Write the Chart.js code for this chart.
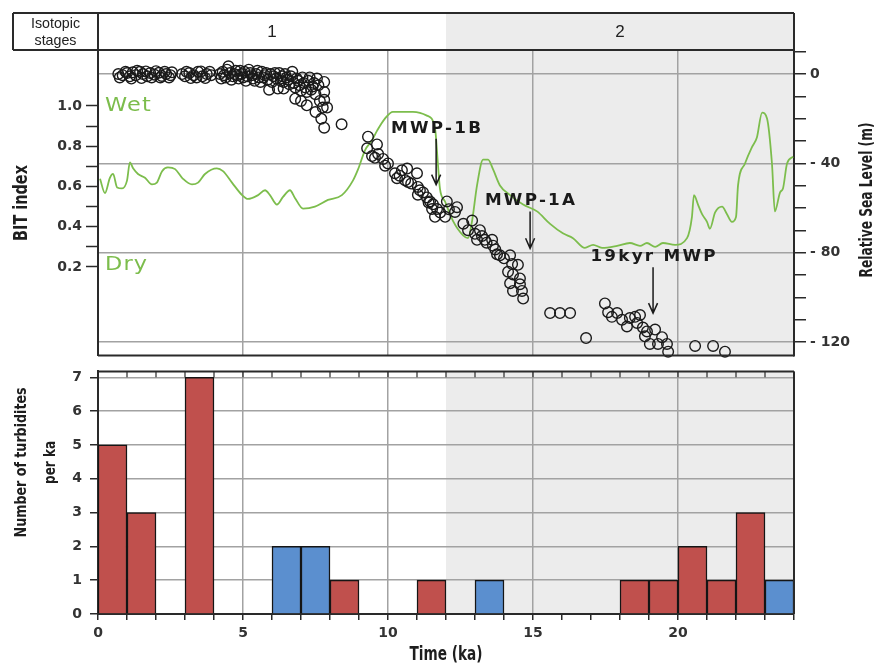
<!DOCTYPE html>
<html>
<head>
<meta charset="utf-8">
<script src="https://cdn.jsdelivr.net/npm/chart.js@4.4.1/dist/chart.umd.min.js"></script>
<style>
  html, body { margin: 0; padding: 0; background: #fff; }
  #wrap { position: relative; width: 885px; height: 671px; overflow: hidden; }
  canvas { position: absolute; left: 0; }
  #chartA { top: 0; }
  #chartB { top: 355px; }
</style>
</head>
<body>
<div id="wrap">
  <canvas id="chartA" width="885" height="368"></canvas>
  <canvas id="chartB" width="885" height="316"></canvas>
</div>
<script>
// isotopic stages (ka)
const stageLabels = ['1', '2'];
const stageBounds = [0, 12, 24];

// relative sea level points: time (ka) / level (m)
const seaTime = [
  0.7, 0.85, 1.0, 1.1, 1.2, 1.3, 1.45, 1.55, 1.7, 1.8, 1.95, 2.1, 2.2, 2.35, 2.5,
  0.75, 0.95, 1.15, 1.35, 1.5, 1.65, 1.85, 2.0, 2.15, 2.3, 2.45, 2.55,
  2.9, 3.0, 3.15, 3.3, 3.45, 3.6, 3.75, 3.9,
  3.05, 3.2, 3.4, 3.55, 3.7, 3.85,
  4.2, 4.3, 4.4, 4.5, 4.55, 4.65, 4.75, 4.85, 4.95,
  4.25, 4.35, 4.45, 4.6, 4.7, 4.8, 4.9,
  5.05, 5.15, 5.25, 5.35, 5.45, 5.55, 5.65, 5.75, 5.85, 5.95, 6.05, 6.15, 6.25, 5.9, 6.2, 6.4,
  5.0, 5.1, 5.2, 5.3, 5.4, 5.5, 5.6, 5.7, 5.8, 6.0, 6.1, 6.3,
  6.35, 6.45, 6.55, 6.65, 6.75, 6.85, 6.95, 7.05, 7.15, 7.25, 7.35, 7.45, 7.55,
  6.4, 6.5, 6.6, 6.7, 6.8, 6.9, 7.0, 7.1, 7.2, 7.3, 7.4, 7.5, 7.6, 7.65,
  6.8, 7.0, 7.2, 7.5, 7.8, 7.8, 7.8, 7.75, 7.9, 7.7, 7.8, 8.4,
  9.31, 9.28, 9.62, 9.45, 9.66, 9.55, 9.83, 9.90, 10.24, 10.31, 10.48, 10.66, 10.59, 10.69,
  11.0, 11.03, 11.03, 11.21, 11.34, 11.45, 11.55, 11.52, 11.69, 11.62, 11.97,
  12.03, 12.38, 12.31, 12.90, 12.76, 13.17, 13.07, 13.24, 13.59, 13.62, 13.76, 13.86, 14.21,
  10.0, 10.4, 10.8, 11.1, 11.4, 11.8, 12.1, 12.6, 13.0, 13.4, 13.7, 14.0,
  13.34, 14.28, 14.48, 14.14, 14.31, 14.55, 14.21, 14.55, 14.31, 14.62, 14.66,
  15.59, 15.93, 16.28, 16.83,
  17.48, 17.59, 17.72, 17.90, 18.07, 18.24, 18.34, 18.52, 18.69, 18.59,
  18.79, 18.93, 19.21, 18.86, 19.03, 19.31, 19.62, 19.45, 19.66,
  20.59, 21.21, 21.62
];
const seaLevel = [
  0, -0.5, 0.5, -1, 0.8, -0.5, 1, 0, -1, 0.5, -0.3, 0.6, -0.8, 0, -0.5,
  -1.5, 1, -2, 1.5, -1.8, 1.2, -1.5, 1.3, -1.5, 1, -1.5, 0.8,
  0, -1, 0.5, -0.5, 1, -1, 0, -0.5,
  1, -1.8, -1.5, 1.2, -1.8, 1,
  0, 1, -1.5, 3.5, 0.5, -1, 1.5, -2, 0,
  -2, -0.5, 2, -2.5, 0, -0.5, 1.5,
  1, -1, 0.5, -2, 0, -1.5, 1, -0.5, -2.5, 0, -1, -2, 0.5, -7, -6.5, -6.5,
  -1.5, -3, 2, -0.5, -3, 1.5, -3.5, -1.5, 0.5, -3.5, 0.5, -3,
  -1, 0, -2.5, -1, -4, -2, -5, -1.5, -6, -3, -7, -4, -2,
  -3.5, -1.5, -4.5, 1, -6, -3, -7.5, -4, -8, -1.5, -5.5, -9, -5, -12,
  -11, -12, -14, -17, -3.5, -8, -11.5, -15, -15, -20, -24, -22.5,
  -28, -33.2, -31.5, -36.7, -35.8, -37.5, -38, -41, -44.4, -46.6, -43.1, -42.3, -47.5, -48.3,
  -44.4, -50.5, -54, -53, -55.2, -57, -58.3, -60.4, -60.4, -63.9, -63.9,
  -57, -59.6, -61.7, -65.6, -69.9, -69.9, -74.2, -72.5, -74.2, -76.8, -80.7, -81.1, -81.1,
  -40, -45.5, -49, -52, -57.5, -62, -60.5, -67, -71.5, -75.5, -78.5, -82.5,
  -74.2, -85, -85.4, -88.5, -89.7, -91.5, -93.6, -94.1, -97.1, -97.1, -100.5,
  -107, -107, -107, -118.2,
  -102.7, -106.6, -108.7, -107, -110, -113, -109.2, -108.7, -107.9, -111.4,
  -113.5, -115.2, -114.4, -117.4, -120.8, -120.8, -120.8, -117.8, -124.3,
  -121.7, -121.7, -124.3
];

// BIT index curve
const bitTime = [
  0.07, 0.24, 0.41, 0.52, 0.66, 0.83, 1.00, 1.10, 1.21, 1.38, 1.62, 1.86, 2.03, 2.21, 2.41, 2.66,
  2.93, 3.24, 3.45, 3.69, 4.10, 4.31, 4.62, 4.97, 5.17, 5.52, 5.76, 5.93, 6.17, 6.38, 6.62, 6.79,
  7.07, 7.48, 7.93, 8.41, 8.79, 8.97, 9.21, 9.45, 9.62, 9.90, 10.17, 10.86, 11.34, 11.62, 11.72,
  11.79, 11.97, 12.24, 12.59, 12.76, 12.90, 13.07, 13.28, 13.45, 13.62, 13.86, 14.21, 14.66, 15.14,
  15.59, 16.03, 16.38, 16.79, 17.07, 17.38, 17.90, 18.34, 18.69, 18.93, 19.21, 19.48, 19.90, 20.31,
  20.48, 20.55, 20.69, 20.83, 21.00, 21.10, 21.28, 21.52, 21.69, 21.86, 22.00, 22.07, 22.31, 22.55,
  22.72, 22.90, 23.07, 23.24, 23.34, 23.52, 23.62, 23.76, 23.97
];
const bitValue = [
  0.638, 0.567, 0.643, 0.662, 0.595, 0.590, 0.629, 0.719, 0.690, 0.662, 0.643, 0.610, 0.619, 0.676, 0.695, 0.686,
  0.638, 0.610, 0.619, 0.662, 0.690, 0.676, 0.619, 0.557, 0.538, 0.557, 0.581, 0.557, 0.510, 0.548, 0.581, 0.543,
  0.490, 0.500, 0.533, 0.557, 0.629, 0.686, 0.781, 0.830, 0.876, 0.938, 0.971, 0.971, 0.952, 0.890, 0.714,
  0.590, 0.524, 0.429, 0.357, 0.343, 0.429, 0.605, 0.733, 0.733, 0.686, 0.605, 0.557, 0.510, 0.476,
  0.414, 0.367, 0.343, 0.295, 0.310, 0.295, 0.305, 0.319, 0.305, 0.319, 0.300, 0.319, 0.310, 0.343,
  0.448, 0.557, 0.510, 0.462, 0.424, 0.390, 0.471, 0.500, 0.462, 0.424, 0.448, 0.605, 0.714, 0.795,
  0.843, 0.967, 0.938, 0.714, 0.476, 0.571, 0.590, 0.714, 0.748
];

// turbidites per ka, 1-ka bins starting at binStart
const binStart = [0,1,2,3,4,5,6,7,8,9,10,11,12,13,14,15,16,17,18,19,20,21,22,23];
const turbidites = [5,3,0,7,0,0,2,2,1,0,0,1,0,1,0,0,0,0,1,1,2,1,3,1];
const turbType = [1,1,1,1,1,1,2,2,1,1,1,1,1,2,1,1,1,1,1,1,1,1,1,2];

// axis ticks
const bitTicks = [0.2, 0.3, 0.4, 0.5, 0.6, 0.7, 0.8, 0.9, 1.0];
const bitLabelled = [0.2, 0.4, 0.6, 0.8, 1.0];
const seaTicks = [-120, -110, -100, -90, -80, -70, -60, -50, -40, -30, -20, -10, 0, 10];
const seaLabelled = [0, -40, -80, -120];
const timeTicks = [0,1,2,3,4,5,6,7,8,9,10,11,12,13,14,15,16,17,18,19,20,21,22,23,24];
const timeLabelled = [0, 5, 10, 15, 20];
const countTicks = [0, 1, 2, 3, 4, 5, 6, 7];

// annotations: label, time, label level, arrow tip level (m)
const arrows = [
  { text: 'MWP-1B', t: 11.66, label: -24.5, tip: -49.5 },
  { text: 'MWP-1A', t: 14.9, label: -57, tip: -78 },
  { text: '19kyr MWP', t: 19.14, label: -82, tip: -107 }
];

// look
const SHADE = '#ececec';
const GRID = '#a2a2a2';
const INK = '#2a2a2a';
const GREEN = '#7cbd4c';
const RED = '#c0504d';
const BLUE = '#5b8fcf';
const SANS = '"Liberation Sans", Arial, sans-serif';
const WIDE = '"DejaVu Sans", "Liberation Sans", sans-serif';
const HEAD_LEFT = 13, HEAD_TOP = 13;
const CLEAR = 'rgba(0,0,0,0)';

Chart.defaults.font.family = WIDE;
Chart.defaults.color = '#333';

const near = (list, v) => list.some(l => Math.abs(l - v) < 1e-6);
const tickFont = { size: 14, weight: 'bold' };

// text squeezed or stretched along its own direction
function putText(ctx, text, x, y, font, sx, angle, align) {
  ctx.save();
  ctx.translate(x, y);
  ctx.rotate(angle || 0);
  ctx.scale(sx, 1);
  ctx.font = font;
  ctx.textAlign = align || 'center';
  ctx.textBaseline = 'middle';
  ctx.fillText(text, 0, 0);
  ctx.restore();
}

// heavy condensed title squeezed to a given length
function putTitle(ctx, text, x, y, size, len, angle) {
  ctx.save();
  ctx.font = 'bold ' + size + 'px ' + WIDE;
  const w = ctx.measureText(text).width;
  ctx.restore();
  putText(ctx, text, x, y, 'bold ' + size + 'px ' + WIDE, len / w, angle);
}

const panelA = {
  id: 'panelA',
  beforeDraw(chart) {
    const { ctx, chartArea: a, scales: { x } } = chart;
    const x0 = x.getPixelForValue(stageBounds[1]);
    ctx.save();
    ctx.fillStyle = SHADE;
    ctx.fillRect(x0, HEAD_TOP, a.right - x0, a.bottom - HEAD_TOP);
    ctx.restore();
  },
  afterDraw(chart) {
    const { ctx, chartArea: a, scales: { x, bit, sea } } = chart;
    ctx.save();
    // header frame + panel edges
    ctx.strokeStyle = INK;
    ctx.lineWidth = 2;
    ctx.beginPath();
    ctx.moveTo(HEAD_LEFT, HEAD_TOP); ctx.lineTo(a.right, HEAD_TOP);
    ctx.moveTo(HEAD_LEFT, HEAD_TOP); ctx.lineTo(HEAD_LEFT, a.top);
    ctx.moveTo(HEAD_LEFT, a.top); ctx.lineTo(a.right, a.top);
    ctx.moveTo(a.left, HEAD_TOP); ctx.lineTo(a.left, a.top);
    ctx.moveTo(a.right, HEAD_TOP); ctx.lineTo(a.right, a.top);
    ctx.moveTo(a.left, a.bottom); ctx.lineTo(a.right, a.bottom);
    ctx.stroke();

    // header text
    ctx.fillStyle = '#222';
    const hx = (HEAD_LEFT + a.left) / 2;
    putText(ctx, 'Isotopic', hx, 24, '15px ' + SANS, 0.95);
    putText(ctx, 'stages', hx, 41, '15px ' + SANS, 0.95);
    stageLabels.forEach((s, i) => {
      const cx = (x.getPixelForValue(stageBounds[i]) + x.getPixelForValue(stageBounds[i + 1])) / 2;
      putText(ctx, s, cx, (HEAD_TOP + a.top) / 2 + 1, '17px ' + SANS, 1);
    });

    // Wet / Dry
    ctx.fillStyle = GREEN;
    ctx.letterSpacing = '1px';
    putText(ctx, 'Wet', a.left + 7, bit.getPixelForValue(1.0), '19px ' + WIDE, 1.18, 0, 'left');
    putText(ctx, 'Dry', a.left + 7, bit.getPixelForValue(0.21), '19px ' + WIDE, 1.18, 0, 'left');

    // meltwater pulse arrows
    ctx.fillStyle = '#1a1a1a';
    ctx.strokeStyle = '#1a1a1a';
    ctx.lineWidth = 1.5;
    ctx.letterSpacing = '2px';
    arrows.forEach(m => {
      const px = x.getPixelForValue(m.t);
      const ly = sea.getPixelForValue(m.label);
      const ty = sea.getPixelForValue(m.tip);
      putText(ctx, m.text, px + 1, ly, 'bold 15px ' + WIDE, 1.12);
      ctx.beginPath();
      ctx.moveTo(px, ly + 10); ctx.lineTo(px, ty);
      ctx.moveTo(px - 4.5, ty - 10); ctx.lineTo(px, ty); ctx.lineTo(px + 4.5, ty - 10);
      ctx.stroke();
    });
    ctx.letterSpacing = '0px';

    // axis titles (both read bottom to top)
    ctx.fillStyle = '#1e1e1e';
    putTitle(ctx, 'BIT index', 22, 203, 19, 76, -Math.PI / 2);
    putTitle(ctx, 'Relative Sea Level (m)', 868, 200, 17, 155, -Math.PI / 2);
    ctx.restore();
  }
};

const panelB = {
  id: 'panelB',
  beforeDraw(chart) {
    const { ctx, chartArea: a, scales: { x } } = chart;
    const x0 = x.getPixelForValue(stageBounds[1]);
    ctx.save();
    ctx.fillStyle = SHADE;
    ctx.fillRect(x0, a.top, a.right - x0, a.bottom - a.top);
    ctx.restore();
  },
  afterDraw(chart) {
    const { ctx, chartArea: a, scales: { x, y } } = chart;
    ctx.save();
    ctx.strokeStyle = INK;
    ctx.lineWidth = 2;
    ctx.beginPath();
    ctx.moveTo(a.left, a.top); ctx.lineTo(a.right, a.top);
    ctx.moveTo(a.right, a.top); ctx.lineTo(a.right, a.bottom);
    ctx.stroke();
    // little ticks along the top edge
    const yTop = y.getPixelForValue(countTicks[countTicks.length - 1]);
    ctx.lineWidth = 1.2;
    ctx.beginPath();
    timeTicks.forEach(t => {
      const px = x.getPixelForValue(t);
      ctx.moveTo(px, a.top); ctx.lineTo(px, yTop);
    });
    ctx.stroke();
    // titles
    ctx.fillStyle = '#1e1e1e';
    const yc = a.top + 91;
    putTitle(ctx, 'Number of turbidites', 22, yc, 16, 150, -Math.PI / 2);
    putTitle(ctx, 'per ka', 51, yc, 16, 43, -Math.PI / 2);
    putTitle(ctx, 'Time (ka)', (a.left + a.right) / 2, a.bottom + 41, 19, 73, 0);
    ctx.restore();
  }
};

new Chart(document.getElementById('chartA'), {
  data: {
    datasets: [
      {
        type: 'scatter',
        label: 'Relative sea level',
        data: seaTime.map((t, i) => ({ x: t, y: seaLevel[i] })),
        yAxisID: 'sea',
        pointStyle: 'circle',
        pointRadius: 5.3,
        borderWidth: 1.4,
        borderColor: '#1a1a1a',
        backgroundColor: CLEAR,
        clip: false
      },
      {
        type: 'line',
        label: 'BIT index',
        data: bitTime.map((t, i) => ({ x: t, y: bitValue[i] })),
        yAxisID: 'bit',
        borderColor: GREEN,
        borderWidth: 1.8,
        pointRadius: 0,
        cubicInterpolationMode: 'monotone',
        fill: false
      }
    ]
  },
  options: {
    responsive: false,
    animation: false,
    events: [],
    layout: { padding: { top: 50, bottom: 1, left: 0, right: 0 }, autoPadding: false },
    plugins: { legend: { display: false }, tooltip: { enabled: false } },
    scales: {
      x: {
        type: 'linear', min: 0, max: 24,
        afterFit: s => { s.height = 0; },
        afterBuildTicks: s => { s.ticks = timeLabelled.concat([24]).map(v => ({ value: v })); },
        ticks: { display: false },
        border: { display: false },
        grid: {
          drawTicks: false, lineWidth: 1.5,
          color: c => (c.tick && c.tick.value > 0 && c.tick.value < 24) ? GRID : CLEAR
        }
      },
      bit: {
        type: 'linear', position: 'left', min: -0.2406, max: 1.278,
        afterFit: s => { s.width = 98; },
        afterBuildTicks: s => { s.ticks = bitTicks.map(v => ({ value: v })); },
        ticks: { callback: v => near(bitLabelled, v) ? v.toFixed(1) : '', font: tickFont, color: '#333', padding: 4 },
        grid: { drawOnChartArea: false, tickLength: 12, tickColor: INK, tickWidth: 1.5 },
        border: { color: INK, width: 2 }
      },
      sea: {
        type: 'linear', position: 'right', min: -126.04, max: 10.79,
        afterFit: s => { s.width = 91; },
        afterBuildTicks: s => { s.ticks = seaTicks.map(v => ({ value: v })); },
        ticks: {
          callback: v => near(seaLabelled, v) ? (v === 0 ? '0' : '- ' + Math.abs(v)) : '',
          font: tickFont, color: '#333', padding: 4
        },
        grid: {
          lineWidth: 1.5, tickLength: 12, tickColor: INK, tickWidth: 1.5,
          color: c => (c.tick && near(seaLabelled, c.tick.value)) ? GRID : CLEAR
        },
        border: { color: INK, width: 2 }
      }
    }
  },
  plugins: [panelA]
});

new Chart(document.getElementById('chartB'), {
  type: 'bar',
  data: {
    datasets: [{
      label: 'Turbidites per ka',
      data: binStart.map((t, i) => ({ x: t + 0.5, y: turbidites[i] })),
      backgroundColor: turbType.map(k => k === 2 ? BLUE : RED),
      borderColor: '#151515',
      borderWidth: 1.5,
      barPercentage: 1,
      categoryPercentage: 1
    }]
  },
  options: {
    responsive: false,
    animation: false,
    events: [],
    layout: { padding: { top: 12, bottom: 0, left: 0, right: 91 }, autoPadding: false },
    plugins: { legend: { display: false }, tooltip: { enabled: false } },
    scales: {
      x: {
        type: 'linear', min: 0, max: 24, offset: false,
        afterFit: s => { s.height = 57; },
        afterBuildTicks: s => { s.ticks = timeTicks.map(v => ({ value: v })); },
        ticks: {
          callback: v => near(timeLabelled, v) ? String(v) : '',
          font: tickFont, color: '#333', padding: 5, maxRotation: 0, autoSkip: false
        },
        grid: {
          offset: false, lineWidth: 1.5, tickLength: 6, tickColor: INK, tickWidth: 1.5,
          color: c => (c.tick && c.tick.value > 0 && c.tick.value < 24 && near(timeLabelled, c.tick.value)) ? GRID : CLEAR
        },
        border: { color: INK, width: 2 }
      },
      y: {
        type: 'linear', min: 0, max: 7.174,
        afterFit: s => { s.width = 98; },
        afterBuildTicks: s => { s.ticks = countTicks.map(v => ({ value: v })); },
        ticks: { font: tickFont, color: '#333', padding: 8 },
        grid: {
          lineWidth: 1.5, tickLength: 8, tickColor: INK, tickWidth: 1.5,
          color: c => (c.tick && c.tick.value > 0) ? GRID : CLEAR
        },
        border: { color: INK, width: 2 }
      }
    }
  },
  plugins: [panelB]
});
</script>
</body>
</html>
